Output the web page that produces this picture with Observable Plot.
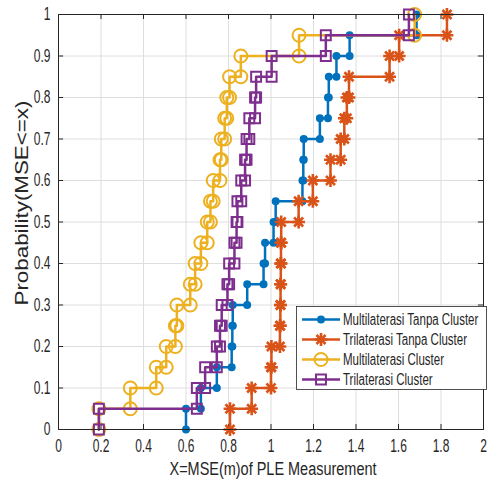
<!DOCTYPE html>
<html><head><meta charset="utf-8">
<script src="https://cdn.jsdelivr.net/npm/d3@7"></script>
<script src="https://cdn.jsdelivr.net/npm/@observablehq/plot@0.6"></script>
<style>body{margin:0;background:#fff;} #chart{width:488px;height:481px;}</style>
</head><body><div id="chart"></div>
<script>
// ---- data (sorted MSE samples read from the ECDF steps) ----
const seriesNames = ["Multilaterasi Tanpa Cluster", "Trilaterasi Tanpa Cluster", "Multilaterasi Cluster", "Trilaterasi Cluster"];
const multiTanpaCluster = [0.600, 0.670, 0.745, 0.815, 0.818, 0.820, 0.888, 0.965, 0.972, 1.012, 1.022, 1.148, 1.152, 1.154, 1.230, 1.268, 1.272, 1.308, 1.370, 1.685];
const triTanpaCluster = [0.807, 0.909, 1.000, 1.002, 1.042, 1.044, 1.045, 1.046, 1.047, 1.048, 1.130, 1.197, 1.280, 1.328, 1.345, 1.357, 1.367, 1.558, 1.603, 1.828];
const multiCluster = [0.190, 0.338, 0.460, 0.507, 0.550, 0.557, 0.620, 0.643, 0.670, 0.700, 0.715, 0.728, 0.760, 0.766, 0.782, 0.792, 0.805, 0.858, 1.132, 1.676];
const triCluster = [0.190, 0.651, 0.690, 0.745, 0.760, 0.768, 0.795, 0.803, 0.828, 0.838, 0.842, 0.860, 0.878, 0.885, 0.898, 0.925, 0.930, 1.003, 1.258, 1.649];
const xTicks = [0, 0.2, 0.4, 0.6, 0.8, 1, 1.2, 1.4, 1.6, 1.8, 2];
const yTicks = [0, 0.1, 0.2, 0.3, 0.4, 0.5, 0.6, 0.7, 0.8, 0.9, 1];
const xLabel = "X=MSE(m)of PLE Measurement";
const yLabel = "Probability(MSE<=x)";

const colors = ["#0072BD", "#D95319", "#EDB120", "#7E2F8E"];
// marker shapes: dot, 8-arm asterisk (plus + times), open circle, open square
const symbols = [["circle"], ["plus", "times"], ["circle"], ["square"]];
const radii = [3, 4.2, 6.5, 5.6];
const fills = [colors[0], "none", "none", "none"];
const allSeries = [multiTanpaCluster, triTanpaCluster, multiCluster, triCluster];

// empirical CDF stair vertices
function stairs(values, name) {
  const s = values.slice().sort((a, b) => a - b);
  const n = s.length, pts = [];
  s.forEach((v, i) => { pts.push({x: v, y: i / n, name}); pts.push({x: v, y: (i + 1) / n, name}); });
  return pts;
}

const dataMarks = [];
allSeries.forEach((vals, k) => {
  const pts = stairs(vals, seriesNames[k]);
  dataMarks.push(Plot.line(pts, {x: "x", y: "y", stroke: colors[k], strokeWidth: 2.5}));
  symbols[k].forEach(sym => {
    dataMarks.push(Plot.dot(pts, {x: "x", y: "y", symbol: sym, r: radii[k], stroke: colors[k], fill: fills[k], strokeWidth: k === 1 ? 2.6 : 2}));
  });
});

const axisColor = "#262626";
const chart = Plot.plot({
  width: 488, height: 481,
  marginLeft: 58, marginRight: 5, marginTop: 14, marginBottom: 52,
  style: {fontFamily: "'Liberation Sans', Arial, sans-serif", fontSize: "12px", color: axisColor, background: "white"},
  x: {domain: [0, 2], ticks: xTicks, tickFormat: d => String(d), tickSize: 0, tickPadding: 10, label: null},
  y: {domain: [0, 1], ticks: yTicks, tickFormat: d => String(d), tickSize: 0, tickPadding: 8, label: null},
  marks: [
    Plot.ruleX(xTicks, {x: d => d, stroke: "#dedede", strokeWidth: 1}),
    Plot.ruleY(yTicks, {y: d => d, stroke: "#dedede", strokeWidth: 1}),
    Plot.ruleX(xTicks, {x: d => d, y1: () => 0, y2: () => 0.012, stroke: axisColor}),
    Plot.ruleX(xTicks, {x: d => d, y1: () => 0.988, y2: () => 1, stroke: axisColor}),
    Plot.ruleY(yTicks, {y: d => d, x1: () => 0, x2: () => 0.024, stroke: axisColor}),
    Plot.ruleY(yTicks, {y: d => d, x1: () => 1.976, x2: () => 2, stroke: axisColor}),
    ...dataMarks,
    Plot.frame({stroke: axisColor, strokeWidth: 1})
  ]
});
document.getElementById("chart").appendChild(chart);

// the reference text is tall and narrow: keep widths, enlarge glyph height
function stretch(el, baseSize, newSize, length) {
  el.style.fontSize = baseSize + "px";
  const w = length || el.getComputedTextLength();
  el.style.fontSize = newSize + "px";
  el.setAttribute("textLength", w);
  el.setAttribute("lengthAdjust", "spacingAndGlyphs");
}
const svg = d3.select(chart);
svg.selectAll("text").each(function() { stretch(this, 12, 18); });

// axis titles
svg.append("text").attr("x", 273).attr("y", 475).attr("text-anchor", "middle")
  .attr("fill", axisColor).attr("font-family", "'Liberation Sans', Arial, sans-serif")
  .text(xLabel).each(function() { stretch(this, 14.5, 18, 207); });
svg.append("text").attr("transform", "translate(28,203) rotate(-90)").attr("text-anchor", "middle")
  .attr("fill", axisColor).attr("font-family", "'Liberation Sans', Arial, sans-serif")
  .text(yLabel).each(function() { stretch(this, 14.5, 18, 205); });

// legend
const lg = svg.append("g");
lg.append("rect").attr("x", 296.5).attr("y", 306.5).attr("width", 190).attr("height", 83)
  .attr("fill", "white").attr("stroke", axisColor).attr("stroke-width", 0.8);
const symTypes = {circle: d3.symbolCircle, plus: d3.symbolPlus, times: d3.symbolTimes, square: d3.symbolSquare};
seriesNames.forEach((name, k) => {
  const yy = 319.5 + k * 20;
  lg.append("line").attr("x1", 302).attr("x2", 340).attr("y1", yy).attr("y2", yy)
    .attr("stroke", colors[k]).attr("stroke-width", 2.5);
  symbols[k].forEach(sym => {
    lg.append("path").attr("transform", `translate(321,${yy})`)
      .attr("d", d3.symbol(symTypes[sym], Math.PI * radii[k] * radii[k])())
      .attr("fill", fills[k]).attr("stroke", colors[k]).attr("stroke-width", k === 1 ? 2.6 : 2);
  });
  lg.append("text").attr("x", 343).attr("y", yy).attr("dy", "0.35em").attr("text-anchor", "start")
    .attr("fill", axisColor).attr("font-family", "'Liberation Sans', Arial, sans-serif")
    .text(name).each(function() { stretch(this, 11.5, 16); });
});
</script>
</body></html>
